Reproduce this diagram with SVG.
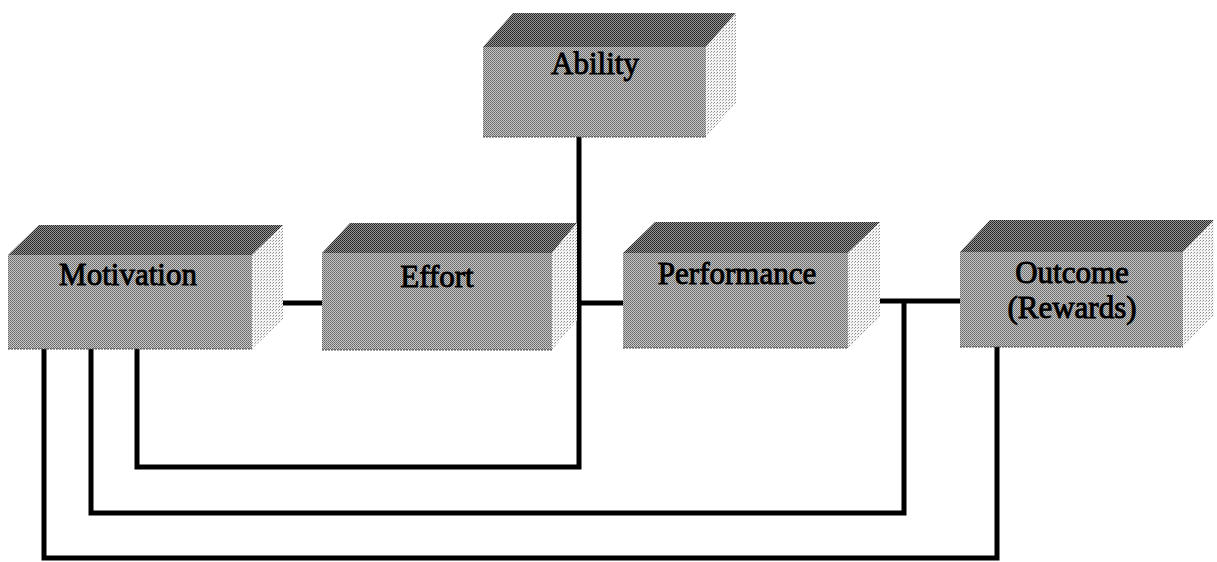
<svg xmlns="http://www.w3.org/2000/svg" width="1217" height="562" viewBox="0 0 1217 562">
  <defs>
    <!-- halftone-like fills for the three visible faces of each block -->
    <pattern id="dotFront" width="2" height="2" patternUnits="userSpaceOnUse">
      <rect width="2" height="2" fill="#c8c8c8"/>
      <rect x="0" y="0" width="1" height="1" fill="#666"/>
      <rect x="1" y="1" width="1" height="1" fill="#777"/>
    </pattern>
    <pattern id="dotTop" width="2" height="2" patternUnits="userSpaceOnUse">
      <rect width="2" height="2" fill="#959595"/>
      <rect x="0" y="0" width="1" height="1" fill="#222"/>
      <rect x="1" y="1" width="1" height="1" fill="#333"/>
    </pattern>
    <pattern id="dotSide" width="3" height="3" patternUnits="userSpaceOnUse">
      <rect width="3" height="3" fill="#f4f4f4"/>
      <rect x="0" y="0" width="1" height="1" fill="#8a8a8a"/>
      <rect x="2" y="1" width="1" height="1" fill="#b0b0b0"/>
    </pattern>
  </defs>
  <style>
    .front { fill: url(#dotFront); }
    .top { fill: url(#dotTop); }
    .side { fill: url(#dotSide); }
    .edge { fill: none; stroke: #444; stroke-width: 1; stroke-dasharray: 2 1; }
    .label { font-family: "Liberation Serif", "Times New Roman", serif; font-size: 31px; fill: #000; stroke: #000; stroke-width: 0.9; text-anchor: middle; }
    .wire { fill: none; stroke: #000; stroke-width: 5; stroke-linejoin: miter; stroke-linecap: butt; }
  </style>

  <rect width="1217" height="562" fill="#fff"/>

  <!-- connectors -->
  <g id="connectors">
    <path class="wire" d="M252 303 H322"/>
    <path class="wire" d="M552 303 H623"/>
    <path class="wire" d="M848 301 H960"/>
    <path class="wire" d="M579 137 V467 H137 V349"/>
    <path class="wire" d="M904 301 V513 H91 V349"/>
    <path class="wire" d="M997 347 V558 H44 V349"/>
  </g>

  <!-- Ability -->
  <g id="ability">
    <polygon class="top" points="483,47 513,13 736,13 706,47"/>
    <polygon class="side" points="706,47 736,13 736,103 706,137"/>
    <rect class="front" x="483" y="47" width="223" height="90"/>
    <path class="edge" d="M483 137 H706"/>
    <text class="label" x="595" y="74">Ability</text>
  </g>

  <!-- Motivation -->
  <g id="motivation">
    <polygon class="top" points="8,255 39,225 283,225 252,255"/>
    <polygon class="side" points="252,255 283,225 283,319 252,349"/>
    <rect class="front" x="8" y="255" width="244" height="94"/>
    <path class="edge" d="M8 349 H252"/>
    <text class="label" x="128" y="285">Motivation</text>
  </g>

  <!-- Effort -->
  <g id="effort">
    <polygon class="top" points="322,253 350,223 577,223 552,253"/>
    <polygon class="side" points="552,253 577,223 577,320 552,350"/>
    <rect class="front" x="322" y="253" width="230" height="97"/>
    <path class="edge" d="M322 350 H552"/>
    <text class="label" x="437" y="287">Effort</text>
  </g>

  <!-- Performance -->
  <g id="performance">
    <polygon class="top" points="623,253 655,222 880,222 848,253"/>
    <polygon class="side" points="848,253 880,222 880,317 848,348"/>
    <rect class="front" x="623" y="253" width="225" height="95"/>
    <path class="edge" d="M623 348 H848"/>
    <text class="label" x="737" y="284">Performance</text>
  </g>

  <!-- Outcome (Rewards) -->
  <g id="outcome">
    <polygon class="top" points="960,252 990,220 1214,220 1183,252"/>
    <polygon class="side" points="1183,252 1214,220 1214,315 1183,347"/>
    <rect class="front" x="960" y="252" width="223" height="95"/>
    <path class="edge" d="M960 347 H1183"/>
    <text class="label" x="1072" y="283">Outcome</text>
    <text class="label" x="1072" y="318">(Rewards)</text>
  </g>
</svg>
